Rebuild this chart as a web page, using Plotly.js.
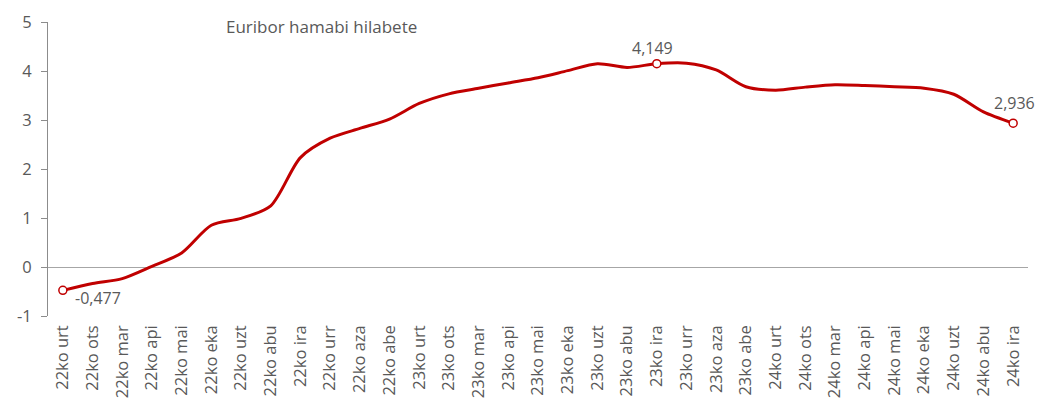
<!DOCTYPE html>
<html><head><meta charset="utf-8">
<script src="https://cdn.plot.ly/plotly-3.0.1.min.js"></script>
<style>html,body{margin:0;padding:0;background:#fff}#chart{width:1039px;height:401px}</style>
</head><body><div id="chart"></div>
<script>
const categories = ["22ko urt","22ko ots","22ko mar","22ko api","22ko mai","22ko eka","22ko uzt","22ko abu","22ko ira","22ko urr","22ko aza","22ko abe",
"23ko urt","23ko ots","23ko mar","23ko api","23ko mai","23ko eka","23ko uzt","23ko abu","23ko ira","23ko urr","23ko aza","23ko abe",
"24ko urt","24ko ots","24ko mar","24ko api","24ko mai","24ko eka","24ko uzt","24ko abu","24ko ira"];
const euribor = [-0.477,-0.335,-0.237,0.013,0.287,0.852,0.992,1.249,2.233,2.629,2.828,3.018,
3.337,3.534,3.647,3.757,3.862,4.007,4.149,4.073,4.149,4.160,4.022,3.679,
3.609,3.671,3.718,3.703,3.680,3.650,3.526,3.166,2.936];
const highlightIdx = [0,20,32];
const labelTexts = ["-0,477","4,149","2,936"];
const yTicks = [-1,0,1,2,3,4,5];
const chartTitle = "Euribor hamabi hilabete";

const red = "#C00000";
const grey = "#595959";
const font = "Open Sans, Segoe UI, sans-serif";

const traces = [
 {x: categories, y: euribor, type:"scatter", mode:"lines",
  line:{color:red, width:3, shape:"spline", smoothing:0.8}, hoverinfo:"skip"},
 {x: highlightIdx.map(i=>categories[i]), y: highlightIdx.map(i=>euribor[i]), type:"scatter", mode:"markers",
  marker:{color:"#fff", size:8, line:{color:red, width:1.5}}, hoverinfo:"skip"}
];
const annOffsets = [[35,8],[-4,-16],[1,-20]];
const annotations = highlightIdx.map((i,k)=>({
  x: categories[i], y: euribor[i], text: labelTexts[k], showarrow:false,
  xshift: annOffsets[k][0], yshift: -annOffsets[k][1],
  font:{family:font, size:16, color:grey}
}));
annotations.push({xref:"paper", yref:"paper", x:0.18, y:0.985, xanchor:"left", yanchor:"middle",
  text: chartTitle, showarrow:false, font:{family:font, size:17, color:grey}});

const layout = {
  width:1039, height:401, showlegend:false,
  margin:{l:48, r:11, t:22, b:85},
  paper_bgcolor:"#fff", plot_bgcolor:"#fff",
  font:{family:font, color:grey},
  xaxis:{type:"category", range:[-0.5,32.5], tickangle:-90, showgrid:false, zeroline:false,
    showline:false, ticks:"", ticklabelstandoff:5, tickfont:{family:font, size:16.5, color:grey}, automargin:false, fixedrange:true},
  yaxis:{range:[-1,5], tickvals:yTicks, ticktext:yTicks.map(String), showgrid:false,
    zeroline:true, zerolinecolor:"#A6A6A6", zerolinewidth:1,
    showline:true, linecolor:"#8C8C8C", linewidth:1, ticks:"outside", ticklen:6, tickcolor:"#8C8C8C",
    ticklabelstandoff:6,
    tickfont:{family:font, size:16.5, color:grey}, automargin:false, fixedrange:true},
  annotations: annotations
};
Plotly.newPlot("chart", traces, layout, {displayModeBar:false, staticPlot:true});
</script></body></html>
